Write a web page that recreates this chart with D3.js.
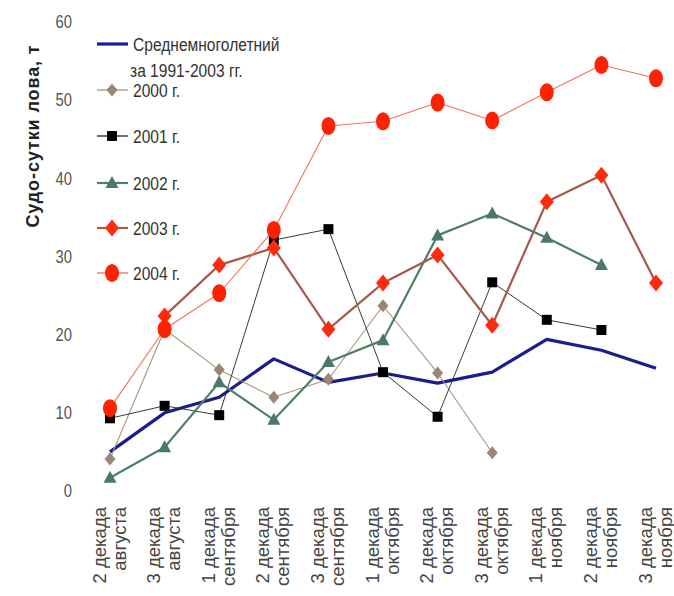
<!DOCTYPE html>
<html><head><meta charset="utf-8">
<script src="https://cdn.jsdelivr.net/npm/d3@7"></script>
<style>body{margin:0;background:#fff}</style>
</head><body>
<svg id="c" width="674" height="596"></svg>
<script>
const categories = ["2 декада августа","3 декада августа","1 декада сентября","2 декада сентября","3 декада сентября","1 декада октября","2 декада октября","3 декада октября","1 декада ноября","2 декада ноября","3 декада ноября"];
const yTicks = [0,10,20,30,40,50,60];
const seriesNames = ["Среднемноголетний за 1991-2003 гг.","2000 г.","2001 г.","2002 г.","2003 г.","2004 г."];
const avg   = [5.0,10.0,12.0,16.9,13.9,15.1,13.8,15.2,19.4,18.0,15.7];
const y2000 = [4.1,20.7,15.5,12.0,14.3,23.7,15.1,4.9,null,null,null];
const y2001 = [9.3,10.9,9.7,32.1,33.5,15.2,9.5,26.7,21.9,20.6,null];
const y2002 = [1.7,5.6,13.9,9.1,16.5,19.3,32.7,35.5,32.4,28.9,null];
const y2003 = [null,22.4,28.9,31.1,20.7,26.6,30.2,21.2,37.0,40.4,26.6];
const y2004 = [10.6,20.7,25.3,33.4,46.7,47.3,49.7,47.4,51.0,54.5,52.8];

const REG = '"Liberation Sans",Arial,sans-serif';

const svg = d3.select("#c");
const x = d3.scalePoint().domain(categories).range([110,656]);
const y = d3.scaleLinear().domain([0,60]).range([491,22]);

const shapes = {
  none: null,
  diamondS: "M0,-6.5L5.5,0L0,6.5L-5.5,0Z",
  square: "M-5,-5H5V5H-5Z",
  triangle: "M0,-7L6.5,5L-6.5,5Z",
  diamondL: "M0,-8.5L7,0L0,8.5L-7,0Z",
  ellipse: "M-7,0a7,9 0 1,0 14,0a7,9 0 1,0 -14,0Z"
};
const series = [
  {name:seriesNames[0], values:avg,   line:"#1c1c8e", lw:3.2, shape:"none"},
  {name:seriesNames[1], values:y2000, line:"#a8957f", lw:1.1, shape:"diamondS", fill:"#9a8774"},
  {name:seriesNames[2], values:y2001, line:"#222",    lw:0.9, shape:"square",   fill:"#000"},
  {name:seriesNames[3], values:y2002, line:"#4f7f68", lw:2.2, shape:"triangle", fill:"#4a7a63"},
  {name:seriesNames[4], values:y2003, line:"#a55a4c", lw:2.2, shape:"diamondL", fill:"#ff2a10"},
  {name:seriesNames[5], values:y2004, line:"#f2705c", lw:1.1, shape:"ellipse",  fill:"#ff2200"}
];

// Y axis
const ya = svg.append("g").attr("transform","translate(72,0)")
  .call(d3.axisLeft(y).tickValues(yTicks).tickSize(0).tickPadding(0));
ya.select(".domain").remove();
ya.selectAll("text").attr("font-family",REG).attr("font-size",18).attr("fill","#555")
  .attr("x",0).attr("transform","scale(0.82,1)");

// X axis labels
const xa = svg.append("g").attr("transform","translate(0,500)")
  .call(d3.axisBottom(x).tickSize(0));
xa.select(".domain").remove();
xa.selectAll(".tick text").each(function(d){
  const parts = d.split(" ");
  const t = d3.select(this).text(null)
    .attr("transform","rotate(-90)").attr("text-anchor","end")
    .attr("font-family",REG).attr("font-size",18.5).attr("fill","#444")
    .attr("x",-7).attr("y",0).attr("dy",null);
  t.append("tspan").attr("x",-7).attr("y",-5).text(parts[0]+" "+parts[1]);
  t.append("tspan").attr("x",-7).attr("y",15).text(parts.slice(2).join(" "));
});

// Y title
svg.append("text").attr("transform","translate(33,136) rotate(-90)")
  .attr("text-anchor","middle").attr("dy","0.35em")
  .attr("font-family",REG).attr("font-weight","bold").attr("font-size",18)
  .attr("letter-spacing","0.9px").attr("fill","#222")
  .text("Судо-сутки лова, т");

// Series
const lineGen = d3.line().defined(d=>d.v!=null).x(d=>x(d.c)).y(d=>y(d.v));
series.forEach(s=>{
  const pts = s.values.map((v,i)=>({c:categories[i], v}));
  const g = svg.append("g");
  g.append("path").datum(pts).attr("d",lineGen).attr("fill","none")
    .attr("stroke",s.line).attr("stroke-width",s.lw).attr("stroke-linejoin","round");
  if (shapes[s.shape]) {
    g.selectAll("path.m").data(pts.filter(d=>d.v!=null)).join("path").attr("class","m")
      .attr("d",shapes[s.shape]).attr("fill",s.fill)
      .attr("transform",d=>`translate(${x(d.c)},${y(d.v)})`);
  }
});

// Legend
const legY = [44,90,136,183,228,273];
const lg = svg.append("g");
series.forEach((s,i)=>{
  const yy = legY[i];
  lg.append("line").attr("x1",97).attr("x2",128).attr("y1",yy).attr("y2",yy)
    .attr("stroke",s.line).attr("stroke-width",Math.max(s.lw,1.3));
  if (shapes[s.shape]) lg.append("path").attr("d",shapes[s.shape]).attr("fill",s.fill)
    .attr("transform",`translate(112,${yy})`);
  const lines = i===0 ? ["Среднемноголетний","за 1991-2003 гг."] : [s.name];
  lines.forEach((t,k)=>{
    lg.append("text").attr("transform",`translate(${k===0?133:130},${yy+k*26}) scale(0.82,1)`)
      .attr("dy","0.35em")
      .attr("font-family",REG).attr("font-size",19).attr("fill","#333").text(t);
  });
});
</script>
</body></html>
